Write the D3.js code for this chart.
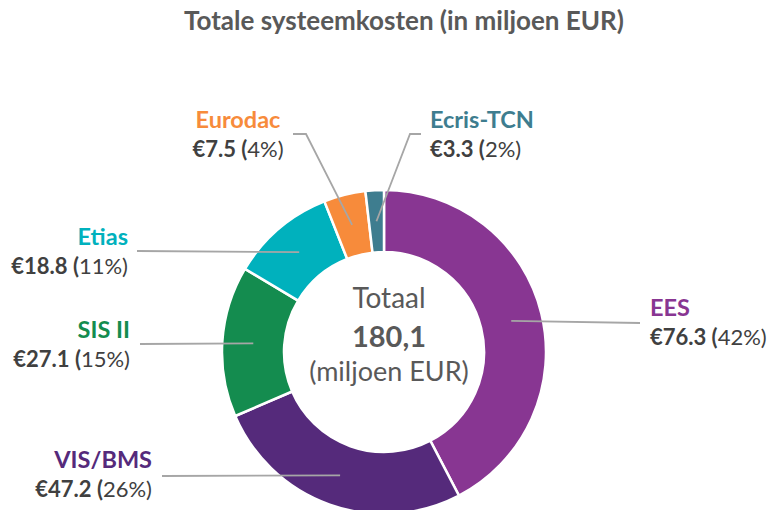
<!DOCTYPE html>
<html>
<head>
<meta charset="utf-8">
<script src="https://cdn.jsdelivr.net/npm/d3@7"></script>
<style>
  body { margin: 0; background: white; }
  text { font-family: Lato, 'Open Sans', sans-serif; }
</style>
</head>
<body>
<svg></svg>
<script>
const systems = ['EES', 'VIS/BMS', 'SIS II', 'Etias', 'Eurodac', 'Ecris-TCN'];
const costs = [76.3, 47.2, 27.1, 18.8, 7.5, 3.3];
const shares = ['42%', '26%', '15%', '11%', '4%', '2%'];
const totalValue = '180,1';

const colors = ['#883692', '#552a7b', '#148c4f', '#00b1bd', '#f78b3b', '#3e7d8f'];

// where each label sits (name baseline) and where its leader line starts
const labelPos = [
  { x: 650, y: 316, anchor: 'start', lead: [[640, 323]] },
  { x: 152, y: 468, anchor: 'end', lead: [[162, 476]] },
  { x: 130, y: 338, anchor: 'end', lead: [[140, 344]] },
  { x: 128, y: 245, anchor: 'end', lead: [[137, 251]] },
  { x: 238, y: 128, anchor: 'middle', lead: [[293, 134], [306, 134]] },
  { x: 430, y: 128, anchor: 'start', lead: [[421, 134], [410, 134]] }
];

const width = 770;
const height = 510;
const cx = 384;
const cy = 352;
const outerR = 162;
const innerR = 100;

const svg = d3.select('svg').attr('width', width).attr('height', height);

svg.append('text')
  .attr('x', 404)
  .attr('y', 30)
  .attr('text-anchor', 'middle')
  .style('font-size', '26px')
  .style('font-weight', 700)
  .style('fill', '#595959')
  .text('Totale systeemkosten (in miljoen EUR)');

const pie = d3.pie().sort(null).value(d => d);
const arcs = pie(costs);
const arc = d3.arc().innerRadius(innerR).outerRadius(outerR);
const mid = d3.arc().innerRadius((innerR + outerR) / 2).outerRadius((innerR + outerR) / 2);

const g = svg.append('g').attr('transform', `translate(${cx},${cy})`);

g.selectAll('path.slice')
  .data(arcs)
  .join('path')
  .attr('class', 'slice')
  .attr('d', arc)
  .style('fill', (d, i) => colors[i])
  .style('stroke', 'white')
  .style('stroke-width', 2.5);

// leader lines
const line = d3.line();
arcs.forEach((d, i) => {
  const c = mid.centroid(d);
  const pts = labelPos[i].lead.concat([[c[0] + cx, c[1] + cy]]);
  svg.append('path')
    .attr('d', line(pts))
    .style('fill', 'none')
    .style('stroke', '#a6a6a6')
    .style('stroke-width', 1.8);
});

// labels
systems.forEach((name, i) => {
  const p = labelPos[i];
  svg.append('text')
    .attr('x', p.x)
    .attr('y', p.y)
    .attr('text-anchor', p.anchor)
    .style('font-size', '23.5px')
    .style('font-weight', 700)
    .style('fill', colors[i])
    .text(name);
  const t = svg.append('text')
    .attr('x', p.x)
    .attr('y', p.y + 29)
    .attr('text-anchor', p.anchor)
    .style('font-size', '22px')
    .style('fill', '#404040');
  t.append('tspan').style('font-weight', 700).text('€' + costs[i] + ' (');
  t.append('tspan').text(shares[i] + ')');
});

// centre text
const centre = svg.append('g').attr('text-anchor', 'middle').style('fill', '#595959');
centre.append('text').attr('x', 389).attr('y', 308).style('font-size', '28px').text('Totaal');
centre.append('text').attr('x', 389).attr('y', 347).style('font-size', '29px').style('font-weight', 700).text(totalValue);
centre.append('text').attr('x', 389).attr('y', 381).style('font-size', '27px').text('(miljoen EUR)');
</script>
</body>
</html>
